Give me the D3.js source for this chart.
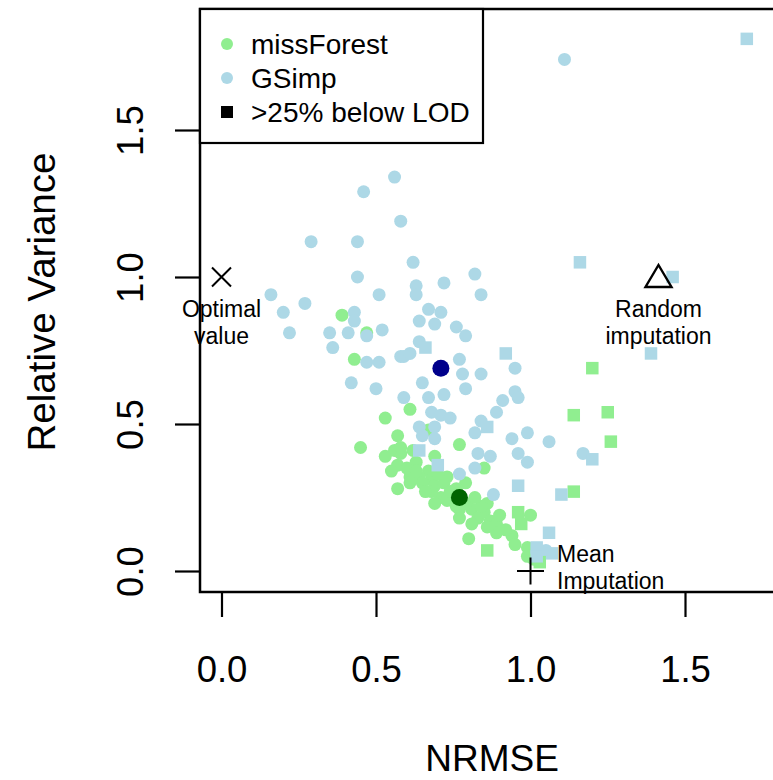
<!DOCTYPE html>
<html>
<head>
<meta charset="utf-8">
<script src="https://cdn.jsdelivr.net/npm/d3@7"></script>
<style>
  body { margin: 0; background: #fff; }
  svg { display: block; font-family: "Liberation Sans", Arial, sans-serif; }
</style>
</head>
<body>
<svg id="chart"></svg>
<script>
// GSimp results (circles)
const gsimpNrmse = [1.11,0.56,0.46,0.58,0.29,0.44,0.62,0.82,0.44,0.63,0.63,0.72,0.84,0.51,0.16,0.27,0.20,0.67,0.71,0.43,
  0.43,0.64,0.69,0.76,0.22,0.35,0.41,0.47,0.52,0.79,0.36,0.64,0.58,0.59,0.61,0.47,0.51,0.77,0.95,0.78,
  0.84,0.42,0.50,0.65,0.59,0.67,0.72,0.79,0.95,0.96,0.91,0.89,0.68,0.71,0.74,0.64,0.69,0.84,0.82,0.99,
  0.65,0.69,0.94,1.06,0.83,0.87,0.96,0.99,1.17,0.82,0.77,0.88,1.05];
const gsimpVar = [1.74,1.34,1.29,1.19,1.12,1.12,1.05,1.01,1.00,0.97,0.94,0.98,0.94,0.94,0.94,0.91,0.88,0.89,0.88,0.88,
  0.85,0.85,0.84,0.83,0.81,0.81,0.81,0.80,0.82,0.80,0.76,0.78,0.73,0.73,0.74,0.71,0.71,0.72,0.69,0.67,
  0.67,0.64,0.62,0.64,0.59,0.59,0.60,0.62,0.61,0.59,0.58,0.54,0.54,0.53,0.52,0.49,0.49,0.51,0.47,0.47,
  0.46,0.45,0.45,0.44,0.40,0.39,0.40,0.37,0.40,0.35,0.33,0.26,0.07];

// GSimp, >25% below LOD (squares)
const gsimpLodNrmse = [1.70,1.16,1.46,1.39,0.92,0.66,0.64,0.70,0.86,0.96,1.10,1.20,1.06,1.02,1.07,1.02];
const gsimpLodVar   = [1.81,1.05,1.00,0.74,0.74,0.76,0.41,0.36,0.49,0.29,0.26,0.38,0.13,0.08,0.06,0.05];

// missForest results (circles)
const mfNrmse = [0.39,0.47,0.43,0.61,0.53,0.57,0.45,0.56,0.58,0.53,0.67,0.77,0.69,0.63,0.67,0.61,0.64,0.68,0.61,0.65,
  0.57,0.73,0.69,0.71,0.79,0.85,0.68,0.69,0.73,0.86,0.77,0.81,0.83,0.85,0.87,0.89,0.89,0.86,0.80,0.77,
  0.84,0.81,1.00,0.94,0.95,0.99,0.99,1.01,0.76,0.90,0.92,0.58,0.72,0.76,
  0.57,0.60,0.62,0.66,0.70,0.74,0.79,0.82,0.63,0.55];
const mfVar = [0.87,0.81,0.72,0.55,0.52,0.46,0.42,0.41,0.40,0.39,0.48,0.43,0.39,0.37,0.34,0.32,0.32,0.31,0.30,0.30,
  0.28,0.32,0.29,0.25,0.30,0.35,0.27,0.23,0.24,0.23,0.18,0.21,0.18,0.20,0.17,0.16,0.13,0.15,0.11,0.21,
  0.22,0.16,0.19,0.12,0.09,0.08,0.05,0.04,0.28,0.19,0.14,0.42,0.30,0.22,
  0.36,0.35,0.41,0.27,0.33,0.27,0.23,0.25,0.34,0.34];

// missForest, >25% below LOD (squares)
const mfLodNrmse = [1.20,1.14,1.25,1.26,1.14,0.96,0.97,0.86,1.03];
const mfLodVar   = [0.69,0.53,0.54,0.44,0.27,0.20,0.16,0.07,0.03];

// method means
const meanNames = ["GSimp", "missForest"];
const meanNrmse = [0.71, 0.77];
const meanVar   = [0.69, 0.25];

// reference points
const refNames = ["optimal", "random", "mean"];
const refNrmse = [0, Math.SQRT2, 1];
const refVar   = [1, 1, 0];

const xTicks = [0, 0.5, 1, 1.5];
const yTicks = [0, 0.5, 1, 1.5];
const legendLabels = ["missForest", "GSimp", ">25% below LOD"];

const width = 773, height = 780;
const colGreen = "#90ee90", colBlue = "#add8e6";

const svg = d3.select("#chart")
    .attr("width", width)
    .attr("height", height);

svg.append("rect").attr("width", width).attr("height", height).attr("fill", "#fff");

const x = d3.scaleLinear().domain([0, 1]).range([221.5, 530.5]);
const y = d3.scaleLinear().domain([0, 1]).range([571, 277]);

const box = { left: 200, top: 9, bottom: 592 };

// helper to zip two arrays
const zip = (a, b) => a.map((v, i) => [v, b[i]]);

const pts = svg.append("g");

// missForest circles
pts.selectAll(".mf").data(zip(mfNrmse, mfVar)).enter()
    .append("circle")
    .attr("cx", d => x(d[0])).attr("cy", d => y(d[1]))
    .attr("r", 6.5).attr("fill", colGreen);

// GSimp circles
pts.selectAll(".gs").data(zip(gsimpNrmse, gsimpVar)).enter()
    .append("circle")
    .attr("cx", d => x(d[0])).attr("cy", d => y(d[1]))
    .attr("r", 6.5).attr("fill", colBlue);

// squares for >25% below LOD
const sq = 12.5;
pts.selectAll(".mfl").data(zip(mfLodNrmse, mfLodVar)).enter()
    .append("rect")
    .attr("x", d => x(d[0]) - sq / 2).attr("y", d => y(d[1]) - sq / 2)
    .attr("width", sq).attr("height", sq).attr("fill", colGreen);
pts.selectAll(".gsl").data(zip(gsimpLodNrmse, gsimpLodVar)).enter()
    .append("rect")
    .attr("x", d => x(d[0]) - sq / 2).attr("y", d => y(d[1]) - sq / 2)
    .attr("width", sq).attr("height", sq).attr("fill", colBlue);

// means
pts.selectAll(".mean").data(meanNames).enter()
    .append("circle")
    .attr("cx", (d, i) => x(meanNrmse[i])).attr("cy", (d, i) => y(meanVar[i]))
    .attr("r", 8.5)
    .attr("fill", d => d === "GSimp" ? "#00008b" : "#006400");

// reference markers
const ref = svg.append("g").attr("stroke", "#000").attr("stroke-width", 2).attr("fill", "none");
refNames.forEach((name, i) => {
  const cx = x(refNrmse[i]), cy = y(refVar[i]);
  if (name === "optimal") {
    const s = 9.5;
    ref.append("path").attr("d", `M${cx - s},${cy - s}L${cx + s},${cy + s}M${cx - s},${cy + s}L${cx + s},${cy - s}`);
  } else if (name === "random") {
    ref.append("path").attr("d", `M${cx},${cy - 12}L${cx + 13},${cy + 10}L${cx - 13},${cy + 10}Z`)
        .attr("stroke-width", 2.4);
  } else {
    const s = 13.5;
    ref.append("path").attr("d", `M${cx - s},${cy}L${cx + s},${cy}M${cx},${cy - s}L${cx},${cy + s}`);
  }
});

// reference labels
const lab = svg.append("g").attr("font-size", 23).attr("fill", "#000");
lab.append("text").attr("x", x(0)).attr("y", 317).attr("text-anchor", "middle").text("Optimal");
lab.append("text").attr("x", x(0)).attr("y", 344).attr("text-anchor", "middle").text("value");
lab.append("text").attr("x", x(Math.SQRT2)).attr("y", 317).attr("text-anchor", "middle").text("Random");
lab.append("text").attr("x", x(Math.SQRT2)).attr("y", 344).attr("text-anchor", "middle").text("imputation");
lab.append("text").attr("x", 557).attr("y", 562).text("Mean");
lab.append("text").attr("x", 557).attr("y", 589).text("Imputation");

// plot box
svg.append("rect")
    .attr("x", box.left).attr("y", box.top)
    .attr("width", 800).attr("height", box.bottom - box.top)
    .attr("fill", "none").attr("stroke", "#000").attr("stroke-width", 2.5);

// x axis
const xAxis = svg.append("g")
    .attr("transform", `translate(0,${box.bottom})`)
    .call(d3.axisBottom(x).tickValues(xTicks).tickFormat(d3.format(".1f")).tickSize(25).tickSizeOuter(0));
xAxis.select(".domain").remove();
xAxis.selectAll("line").attr("stroke", "#000").attr("stroke-width", 2.2);
xAxis.selectAll("text")
    .attr("y", 90).attr("dy", 0)
    .attr("font-size", 36.5).attr("font-family", "Liberation Sans, Arial, sans-serif").attr("fill", "#000");

// y axis
const yAxis = svg.append("g")
    .attr("transform", `translate(${box.left},0)`)
    .call(d3.axisLeft(y).tickValues(yTicks).tickFormat(d3.format(".1f")).tickSize(25).tickSizeOuter(0));
yAxis.select(".domain").remove();
yAxis.selectAll("line").attr("stroke", "#000").attr("stroke-width", 2.2);
yAxis.selectAll("text")
    .attr("transform", "rotate(-90)")
    .attr("x", 0).attr("y", -57).attr("dy", 0)
    .attr("text-anchor", "middle")
    .attr("font-size", 36.5).attr("font-family", "Liberation Sans, Arial, sans-serif").attr("fill", "#000");

// axis titles
svg.append("text")
    .attr("x", 492).attr("y", 771)
    .attr("text-anchor", "middle").attr("font-size", 37)
    .text("NRMSE");
svg.append("text")
    .attr("transform", "translate(55,302) rotate(-90)")
    .attr("text-anchor", "middle").attr("font-size", 38.5)
    .text("Relative Variance");

// legend
const legend = svg.append("g");
legend.append("rect")
    .attr("x", box.left).attr("y", box.top)
    .attr("width", 283).attr("height", 134)
    .attr("fill", "#fff").attr("stroke", "#000").attr("stroke-width", 2.2);
const rowY = d3.scalePoint().domain(legendLabels).range([44, 112]);
legend.selectAll(".lt").data(legendLabels).enter()
    .append("text")
    .attr("x", 251).attr("y", d => rowY(d)).attr("dy", "0.36em")
    .attr("font-size", 28).text(d => d);
legend.append("circle").attr("cx", 227).attr("cy", rowY("missForest")).attr("r", 6).attr("fill", colGreen);
legend.append("circle").attr("cx", 227).attr("cy", rowY("GSimp")).attr("r", 6).attr("fill", colBlue);
legend.append("rect").attr("x", 221).attr("y", rowY(">25% below LOD") - 6)
    .attr("width", 12).attr("height", 12).attr("fill", "#000");
</script>
</body>
</html>
